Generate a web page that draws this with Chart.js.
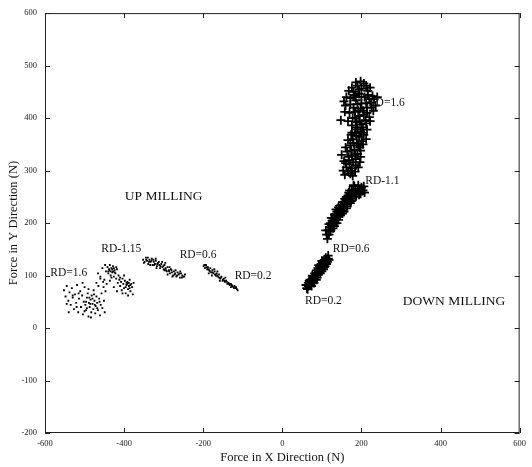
<!DOCTYPE html>
<html><head><meta charset="utf-8">
<script src="https://cdn.jsdelivr.net/npm/chart.js@4.4.1/dist/chart.umd.min.js"></script>
<style>html,body{margin:0;padding:0;background:#fff}#wrap{width:532px;height:467px}</style>
</head><body><div id="wrap"><canvas id="c" width="532" height="467"></canvas></div>
<script>
// ---- data (Force X, Force Y in N) ----
const xTicks = [-600,-400,-200,0,200,400,600];
const yTicks = [-200,-100,0,100,200,300,400,500,600];

const upRD16 = [[-552,72],[-548,60],[-545,80],[-541,52],[-538,68],[-535,44],[-532,76],[-530,58],[-527,36],[-524,64],[-521,48],[-519,82],[-516,30],[-514,56],[-511,70],[-509,40],[-506,62],[-504,26],[-502,50],[-500,78],[-498,44],[-496,34],[-494,58],[-492,66],[-490,22],[-489,48],[-487,40],[-485,54],[-483,30],[-482,62],[-480,46],[-478,36],[-477,72],[-475,52],[-473,28],[-472,42],[-470,60],[-468,48],[-466,34],[-465,80],[-463,56],[-461,24],[-459,44],[-457,66],[-455,38],[-453,88],[-451,52],[-449,30],[-447,70],[-460,94],[-470,86],[-490,74],[-520,40],[-540,30],[-505,86],[-484,20],[-476,64],[-494,38],[-486,46],[-480,56],[-474,44],[-488,58],[-496,50],[-468,38],[-462,50],[-530,62],[-515,66],[-545,46],[-500,32]];
const upRD115 = [[-466,104],[-460,98],[-455,114],[-450,92],[-446,108],[-442,116],[-440,104],[-437,110],[-434,100],[-432,114],[-430,106],[-428,118],[-426,98],[-424,110],[-422,104],[-420,94],[-418,112],[-416,86],[-414,100],[-412,92],[-410,80],[-408,88],[-406,72],[-404,94],[-402,84],[-400,76],[-398,90],[-396,66],[-394,82],[-392,88],[-390,74],[-388,80],[-386,92],[-384,70],[-382,84],[-380,78],[-378,64],[-376,86],[-436,90],[-444,84],[-426,78],[-418,70],[-448,120],[-436,120],[-428,108],[-420,116],[-432,96],[-400,100],[-410,96],[-396,78],[-404,66],[-390,62],[-452,78],[-438,112],[-434,108],[-430,112],[-426,114],[-440,108],[-424,106],[-392,84],[-388,86],[-384,82],[-394,86],[-386,76]];
const upRD06 = [[-352,130],[-348,126],[-345,134],[-342,128],[-339,122],[-336,130],[-333,126],[-330,132],[-328,120],[-325,126],[-322,122],[-320,128],[-317,118],[-314,124],[-311,120],[-309,114],[-306,122],[-303,116],[-300,112],[-298,120],[-295,114],[-292,108],[-290,116],[-287,110],[-284,104],[-282,112],[-279,106],[-276,100],[-274,108],[-271,104],[-268,98],[-265,106],[-262,102],[-259,96],[-256,104],[-253,100],[-250,98],[-246,102],[-340,134],[-326,130],[-312,126],[-298,110],[-285,116],[-270,110],[-258,108],[-318,114],[-304,126],[-290,102],[-350,124],[-344,130],[-337,126],[-331,128],[-324,120],[-316,122],[-308,118],[-301,118],[-294,110],[-286,108],[-280,110],[-272,102],[-266,100],[-260,104],[-254,96],[-248,98],[-334,120],[-320,132],[-296,124],[-278,98]];
const upRD02 = [[-199,118],[-196,114],[-193,120],[-190,112],[-188,116],[-185,110],[-182,114],[-180,106],[-177,110],[-174,104],[-171,108],[-168,100],[-166,104],[-163,98],[-160,102],[-157,94],[-154,98],[-151,90],[-148,94],[-145,88],[-142,90],[-139,84],[-136,86],[-133,82],[-130,84],[-127,80],[-124,78],[-121,80],[-118,76],[-115,74],[-186,104],[-172,112],[-158,90],[-144,96],[-130,78],[-178,100],[-164,108],[-197,120],[-192,116],[-187,112],[-183,108],[-176,106],[-170,102],[-165,100],[-160,96],[-155,96],[-150,92],[-146,90],[-140,88],[-135,84],[-128,82],[-122,76],[-117,78],[-113,72]];

const downRD02 = [[62,76],[66,80],[70,84],[68,90],[74,88],[76,94],[80,92],[78,98],[84,100],[82,104],[88,104],[86,110],[92,108],[90,114],[96,112],[94,118],[100,116],[98,122],[104,120],[102,126],[108,124],[106,130],[112,128],[110,134],[114,126],[72,82],[80,86],[88,96],[96,104],[104,112],[66,86],[76,100],[92,120],[108,118],[116,132],[60,82],[64,74],[70,92],[74,80],[82,96],[86,92],[90,102],[96,118],[100,108],[106,116],[112,122],[116,138],[118,130],[100,128]];
const downRD06 = [[112,178],[116,186],[120,192],[118,198],[124,196],[126,204],[130,200],[128,210],[134,208],[136,216],[140,212],[138,222],[144,220],[146,228],[150,224],[148,234],[154,232],[156,240],[160,236],[158,246],[164,244],[166,252],[170,248],[168,258],[174,254],[176,262],[180,256],[184,264],[188,258],[192,266],[196,262],[200,268],[204,262],[186,250],[178,246],[172,238],[162,228],[152,218],[142,206],[132,194],[122,184],[114,170],[180,272],[194,254],[124,210],[136,226],[110,186],[118,178],[122,200],[128,190],[132,216],[138,200],[142,230],[146,214],[152,240],[156,222],[162,250],[164,232],[170,262],[174,242],[182,270],[186,256],[192,272],[198,256],[206,270],[208,258],[128,196],[146,222],[166,244],[184,258]];
const downRD11 = [[158,292],[166,298],[172,294],[162,306],[176,304],[170,312],[180,316],[168,320],[186,322],[176,328],[190,332],[164,336],[182,340],[196,344],[172,348],[188,352],[200,356],[178,360],[194,364],[206,368],[184,372],[150,330],[198,338],[174,300],[186,310],[154,300],[160,314],[178,290],[184,298],[192,306],[168,326],[156,318],[184,330],[198,326],[174,338],[192,348],[180,352],[166,358],[204,350],[188,366],[174,368],[200,372],[212,360],[160,344],[196,316]];
const downRD16 = [[190,378],[204,382],[176,386],[212,390],[196,394],[184,400],[148,396],[220,402],[206,406],[170,410],[192,414],[230,414],[180,420],[214,420],[160,424],[200,428],[224,430],[186,434],[172,438],[208,440],[228,442],[194,446],[180,450],[216,452],[200,456],[190,462],[206,466],[184,444],[168,452],[220,436],[236,424],[198,418],[210,396],[188,392],[176,372],[198,374],[214,378],[186,382],[166,394],[200,388],[222,394],[178,400],[194,404],[214,410],[158,412],[184,412],[204,414],[226,420],[172,426],[190,426],[212,428],[162,440],[182,440],[200,440],[216,444],[232,436],[176,458],[194,454],[212,462],[198,470],[186,468],[222,458],[156,432],[240,440]];

const labelTexts = ["UP MILLING","DOWN MILLING","RD=1.6","RD-1.15","RD=0.6","RD=0.2","RD=0.2","RD=0.6","RD-1.1","RD=1.6"];
const labelX = [-300,434,-540,-407,-213,-74,104,174,253,263];
const labelY = [250,51,104,150,140,100,52,150,280,429];
const labelBig = [true,true,false,false,false,false,false,false,false,false];

const toPts = a => a.map(p => ({x:p[0], y:p[1]}));
const SERIF = '"Liberation Serif","DejaVu Serif",serif';

const dotDs = (d) => ({data: toPts(d), pointStyle:'rect', pointRadius:1.3, backgroundColor:'#000', borderColor:'#000', borderWidth:0, showLine:false});
const crossDs = (d) => ({data: toPts(d), pointStyle:'cross', pointRadius:4.5, borderColor:'#000', borderWidth:1.8, showLine:false});

const framePlugin = {
  id:'frame',
  afterDatasetsDraw(chart){
    const {ctx, chartArea:a, scales:{x, y}} = chart;
    ctx.save();
    ctx.strokeStyle = '#222'; ctx.lineWidth = 1;
    ctx.strokeRect(a.left+0.5, a.top+0.5, a.right-a.left-1, a.bottom-a.top-1);
    ctx.beginPath();
    xTicks.forEach(v => { const px = Math.round(x.getPixelForValue(v))+0.5;
      ctx.moveTo(px, a.bottom); ctx.lineTo(px, a.bottom-5);
      ctx.moveTo(px, a.top); ctx.lineTo(px, a.top+5); });
    yTicks.forEach(v => { const py = Math.round(y.getPixelForValue(v))+0.5;
      ctx.moveTo(a.left, py); ctx.lineTo(a.left+5, py);
      ctx.moveTo(a.right, py); ctx.lineTo(a.right-5, py); });
    ctx.stroke();
    ctx.fillStyle = '#111'; ctx.textAlign='center'; ctx.textBaseline='middle';
    labelTexts.forEach((t,i) => {
      ctx.font = (labelBig[i] ? '13.5px ' : '11.5px ') + SERIF;
      ctx.fillText(t, x.getPixelForValue(labelX[i]), y.getPixelForValue(labelY[i]));
    });
    ctx.restore();
  }
};

new Chart(document.getElementById('c'), {
  type:'scatter',
  data:{datasets:[dotDs(upRD16),dotDs(upRD115),dotDs(upRD06),dotDs(upRD02),
    crossDs(downRD02),crossDs(downRD06),crossDs(downRD11),crossDs(downRD16)]},
  options:{
    responsive:false, animation:false, devicePixelRatio:1,
    layout:{padding:{top:10,right:4,left:0,bottom:0}},
    plugins:{legend:{display:false}, tooltip:{enabled:false}},
    scales:{
      x:{type:'linear', min:-600, max:600,
        afterBuildTicks: s => { s.ticks = xTicks.map(v=>({value:v})); },
        afterFit: s => { s.height = 34; },
        grid:{display:false, drawTicks:false}, border:{display:false},
        ticks:{padding:6, color:'#222', font:{family:SERIF, size:8.5}, maxRotation:0, autoSkip:false},
        title:{display:true, text:'Force in X Direction (N)', color:'#111', font:{family:SERIF, size:12.5}, padding:{top:0,bottom:2}}},
      y:{type:'linear', min:-200, max:600,
        afterBuildTicks: s => { s.ticks = yTicks.map(v=>({value:v})); },
        afterFit: s => { s.width = 45; },
        grid:{display:false, drawTicks:false}, border:{display:false},
        ticks:{padding:8, color:'#222', font:{family:SERIF, size:8.5}, autoSkip:false},
        title:{display:true, text:'Force in Y Direction (N)', color:'#111', font:{family:SERIF, size:12.5}, padding:{top:6,bottom:0}}}
    }
  },
  plugins:[framePlugin]
});
</script></body></html>
